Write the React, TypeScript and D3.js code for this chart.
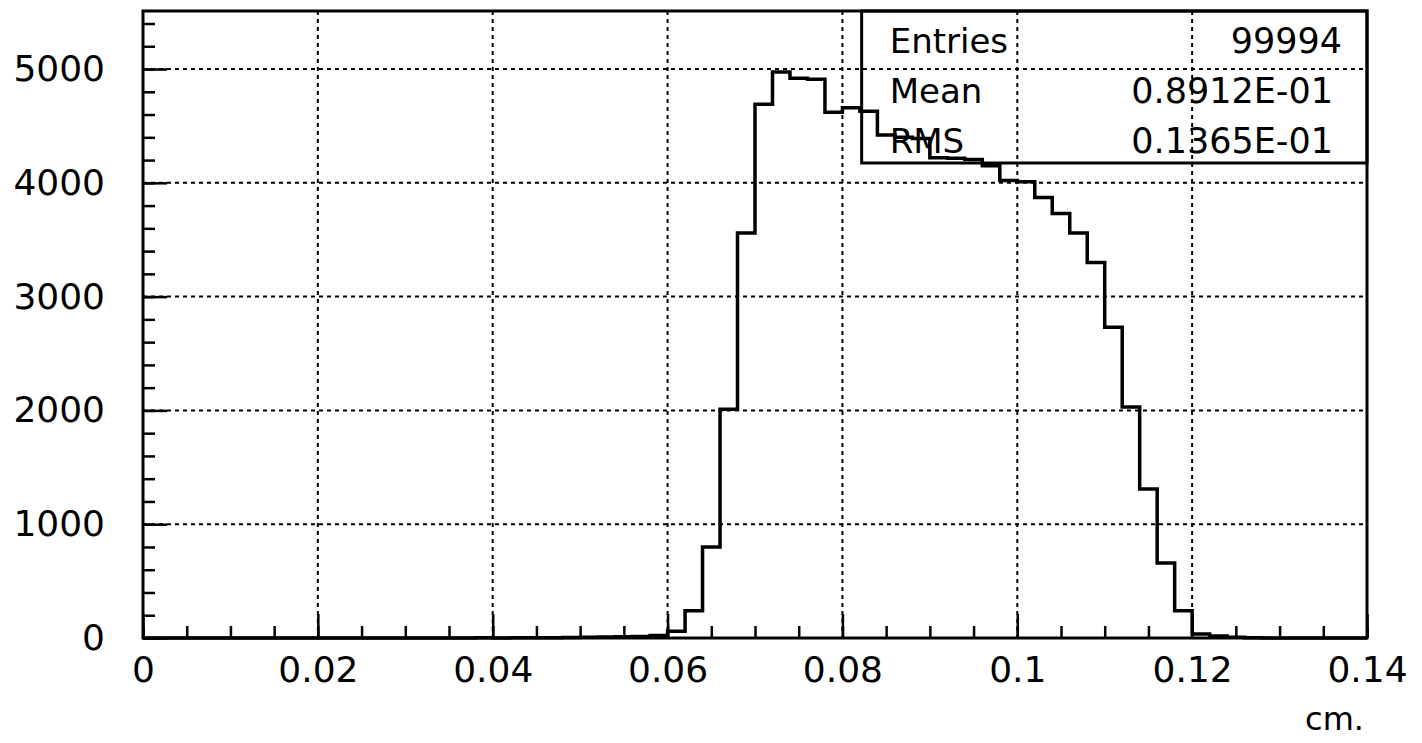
import React, { useEffect, useRef } from "react";
import * as d3 from "d3";

// histogram: 70 bins of 0.002 cm from 0 to 0.14
const BIN_WIDTH = 0.002;
const counts: number[] = [
  0, 0, 0, 0, 0, 0, 0, 0, 0, 0,
  0, 0, 0, 0, 0, 0, 0, 0, 1, 2,
  1, 2, 3, 2, 4, 6, 9, 12, 14, 22,
  60, 240, 800, 2010, 3560, 4690, 4975, 4920, 4910, 4620,
  4660, 4630, 4420, 4400, 4390, 4220, 4215, 4205, 4150, 4020,
  4010, 3870, 3730, 3560, 3300, 2730, 2030, 1310, 660, 240,
  35, 18, 6, 3, 0, 0, 0, 0, 0, 0,
];

const xTicks = [0, 0.02, 0.04, 0.06, 0.08, 0.1, 0.12, 0.14];
const xTickLabels = ["0", "0.02", "0.04", "0.06", "0.08", "0.1", "0.12", "0.14"];
const yTicks = [0, 1000, 2000, 3000, 4000, 5000];
const yTickLabels = ["0", "1000", "2000", "3000", "4000", "5000"];
const xTitle = "cm.";

const statLabels = ["Entries", "Mean", "RMS"];
const statValues = ["99994", "0.8912E-01", "0.1365E-01"];

const FONT = "DejaVu Sans, sans-serif";

const HistogramChart: React.FC = () => {
  const svgRef = useRef<SVGSVGElement | null>(null);
  const width = 1422;
  const height = 743;

  useEffect(() => {
    const margin = { top: 11, right: 55, bottom: 105, left: 143 };
    const innerWidth = width - margin.left - margin.right;
    const innerHeight = height - margin.top - margin.bottom;

    const svg = d3.select(svgRef.current);
    svg.selectAll("*").remove();

    const chart = svg
      .append("g")
      .attr("transform", `translate(${margin.left}, ${margin.top})`);

    const xScale = d3.scaleLinear().domain([0, 0.14]).range([0, innerWidth]);
    const yScale = d3.scaleLinear().domain([0, 5510]).range([innerHeight, 0]);

    // dotted grid
    const grid = chart
      .append("g")
      .attr("stroke", "#000")
      .attr("stroke-width", 2)
      .attr("stroke-dasharray", "4 4");
    xTicks.slice(1, -1).forEach((t) => {
      grid
        .append("line")
        .attr("x1", xScale(t))
        .attr("x2", xScale(t))
        .attr("y1", 0)
        .attr("y2", innerHeight);
    });
    yTicks.slice(1).forEach((t) => {
      grid
        .append("line")
        .attr("x1", 0)
        .attr("x2", innerWidth)
        .attr("y1", yScale(t))
        .attr("y2", yScale(t));
    });

    // histogram outline
    const pts: [number, number][] = counts.map((c, i) => [i * BIN_WIDTH, c]);
    pts.push([counts.length * BIN_WIDTH, counts[counts.length - 1]]);
    const line = d3
      .line<[number, number]>()
      .x((d) => xScale(d[0]))
      .y((d) => yScale(d[1]))
      .curve(d3.curveStepAfter);
    chart
      .append("path")
      .attr("d", line(pts)!)
      .attr("fill", "none")
      .attr("stroke", "#000")
      .attr("stroke-width", 3.5);

    // ticks pointing inward
    const xMinor = d3.range(0, 0.1401, 0.005);
    const yMinor = d3.range(0, 5501, 200);

    const xAxisMinor = d3.axisBottom(xScale).tickValues(xMinor).tickSize(-12).tickFormat(() => "");
    const xAxisMajor = d3
      .axisBottom(xScale)
      .tickValues(xTicks)
      .tickSize(-24)
      .tickPadding(18)
      .tickFormat((_, i) => xTickLabels[i]);
    const yAxisMinor = d3.axisLeft(yScale).tickValues(yMinor).tickSize(-12).tickFormat(() => "");
    const yAxisMajor = d3
      .axisLeft(yScale)
      .tickValues(yTicks)
      .tickSize(-24)
      .tickPadding(38)
      .tickFormat((_, i) => yTickLabels[i]);

    const styleAxis = (g: d3.Selection<SVGGElement, unknown, null, undefined>) => {
      g.select(".domain").remove();
      g.selectAll("line").attr("stroke", "#000").attr("stroke-width", 2.5);
      g.selectAll("text")
        .attr("fill", "#000")
        .style("font-family", FONT)
        .style("font-size", "36px");
    };

    chart.append("g").attr("transform", `translate(0, ${innerHeight})`).call(xAxisMinor).call(styleAxis);
    chart.append("g").attr("transform", `translate(0, ${innerHeight})`).call(xAxisMajor).call(styleAxis);
    chart.append("g").call(yAxisMinor).call(styleAxis);
    chart.append("g").call(yAxisMajor).call(styleAxis);

    // frame
    chart
      .append("rect")
      .attr("x", 0)
      .attr("y", 0)
      .attr("width", innerWidth)
      .attr("height", innerHeight)
      .attr("fill", "none")
      .attr("stroke", "#000")
      .attr("stroke-width", 3);

    // axis title
    chart
      .append("text")
      .attr("x", innerWidth - 3)
      .attr("y", innerHeight + 92)
      .attr("text-anchor", "end")
      .style("font-family", FONT)
      .style("font-size", "32px")
      .text(xTitle);

    // statistics box
    const boxLeft = xScale(0.0822);
    const boxBottom = 152;
    chart
      .append("rect")
      .attr("x", boxLeft)
      .attr("y", 0)
      .attr("width", innerWidth - boxLeft)
      .attr("height", boxBottom)
      .attr("fill", "none")
      .attr("stroke", "#000")
      .attr("stroke-width", 3);

    statLabels.forEach((lab, i) => {
      const yb = 42 + i * 50;
      chart
        .append("text")
        .attr("x", boxLeft + 28)
        .attr("y", yb)
        .style("font-family", FONT)
        .style("font-size", "34px")
        .text(lab);
      chart
        .append("text")
        .attr("x", innerWidth - 25 - (i === 0 ? 0 : 9))
        .attr("y", yb)
        .attr("text-anchor", "end")
        .style("font-family", FONT)
        .style("font-size", "35px")
        .text(statValues[i]);
    });
  }, []);

  return (
    <svg
      ref={svgRef}
      width={width}
      height={height}
      style={{ position: "absolute", left: 0, top: 0, background: "#fff" }}
    />
  );
};

export default function App() {
  return <HistogramChart />;
}
